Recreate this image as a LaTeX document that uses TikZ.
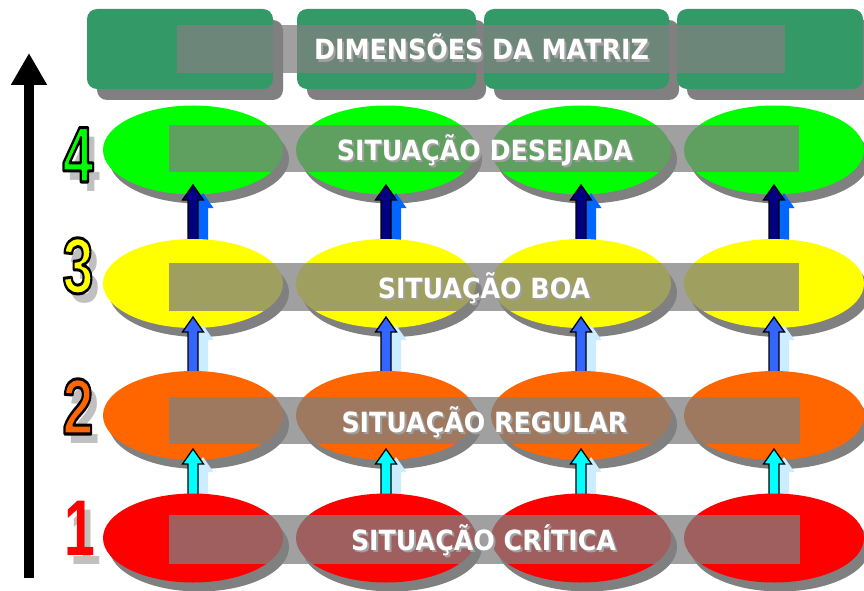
\documentclass[tikz,border=0pt]{standalone}
\usepackage{fontspec}
\usepackage{graphicx}
\usetikzlibrary{arrows.meta,shapes.geometric,shadows}
\newfontfamily\labfont{DejaVu Sans}
\newfontfamily\numfont{Liberation Sans}
\definecolor{boxgreen}{HTML}{339966}
\definecolor{shgray}{HTML}{808080}
\definecolor{txtshadow}{HTML}{A0A0A0}
\definecolor{numshadow}{HTML}{C0C0C0}
\definecolor{cgreen}{HTML}{00FF00}
\definecolor{cyellow}{HTML}{FFFF00}
\definecolor{corange}{HTML}{FF6600}
\definecolor{cred}{HTML}{FF0000}
\definecolor{arrnavy}{HTML}{000080}
\definecolor{arrblue}{HTML}{0066FF}
\definecolor{arrmid}{HTML}{3366FF}
\definecolor{arrcyan}{HTML}{00FFFF}
\definecolor{arrpale}{HTML}{CCECFF}
\newcommand\ofs[3]{\makebox[0pt][l]{\hspace*{#1}\raisebox{#2}{#3}}}
\newcommand\shtext[1]{\scalebox{1}[1.1]{\ofs{2pt}{-2pt}{\textcolor{txtshadow}{#1}}\textcolor{white}{#1}}}
\newcommand\olnum[2]{\ofs{10pt}{-9pt}{\textcolor{numshadow}{#2}}\textcolor{#1}{\special{pdf:literal direct 0 0 0 RG 3 w 1 j 2 Tr}#2\special{pdf:literal direct 0 Tr}}}
\newcommand\plnum[2]{\ofs{8pt}{-9pt}{\textcolor{numshadow}{#2}}\textcolor{#1}{#2}}
\begin{document}
\begin{tikzpicture}[x=1pt,y=-1pt,
  dimbox/.style={rectangle, rounded corners=10pt, fill=boxgreen, inner sep=0pt, minimum height=80pt,
     drop shadow={shadow xshift=10pt, shadow yshift=-11pt, fill=shgray, opacity=1}},
  oval/.style={ellipse, inner sep=0pt, minimum width=180pt, minimum height=89pt,
     drop shadow={shadow xshift=6pt, shadow yshift=-9pt, fill=shgray, opacity=1}},
  band/.style={fill=shgray, fill opacity=0.75},
  lbl/.style={anchor=base, inner sep=0pt, font=\labfont\bfseries\fontsize{25.3}{28}\selectfont},
  num/.style={anchor=base, inner sep=0pt, font=\numfont\bfseries\fontsize{79}{80}\selectfont},
  mainarr/.style={draw=black, line width=1.3pt, line join=miter, fill=#1},
  secarr/.style={fill=#1},
  uparr/.pic={\path[pic actions] (0,0) -- (10.5,15) -- (5,15) -- (5,62) -- (-5,62) -- (-5,15) -- (-10.5,15) -- cycle;}
]
\useasboundingbox (0,0) rectangle (864,591);

% vertical axis arrow
\coordinate (axb) at (29,578);
\coordinate (axt) at (29,53);
\draw[line width=10pt, -{Triangle[width=34pt,length=32pt]}] (axb) -- (axt);

% top boxes
\node[dimbox, minimum width=186pt] (d1) at (180,49) {};
\node[dimbox, minimum width=179pt] (d2) at (386.5,49) {};
\node[dimbox, minimum width=185pt] (d3) at (576.5,49) {};
\node[dimbox, minimum width=186pt] (d4) at (770,49) {};
\fill[band] (177,25) rectangle (785,73);
\node[lbl] (title) at (481.5,60) {\shtext{DIMENSÕES DA MATRIZ}};

% row 4
\foreach \x [count=\i] in {193,386,581,774} \node[oval, fill=cgreen] (e4\i) at (\x,150) {};
\fill[band] (169,125) rectangle (799,172);
\node[lbl] (t4) at (485,160) {\shtext{SITUAÇÃO DESEJADA}};
\node[num] (n4) at (78,182) {\scalebox{0.7}[1]{\olnum{cgreen}{4}}};

% arrows 4-3
\foreach \x in {193,386,581,774} {
  \pic[secarr=arrblue] at (\x+10,193) {uparr};
  \pic[mainarr=arrnavy] at (\x,185) {uparr};
}

% row 3
\foreach \x [count=\i] in {193,386,581,774} \node[oval, fill=cyellow] (e3\i) at (\x,283.5) {};
\fill[band] (169,263) rectangle (799,311);
\node[lbl] (t3) at (484,298) {\shtext{SITUAÇÃO BOA}};
\node[num] (n3) at (78,293) {\scalebox{0.7}[1]{\olnum{cyellow}{3}}};

% arrows 3-2
\foreach \x in {193,386,581,774} {
  \pic[secarr=arrpale] at (\x+10,325) {uparr};
  \pic[mainarr=arrmid] at (\x,317) {uparr};
}

% row 2
\foreach \x [count=\i] in {193,386,581,774} \node[oval, fill=corange] (e2\i) at (\x,415.5) {};
\fill[band] (169,397) rectangle (800,444);
\node[lbl] (t2) at (484.5,432) {\shtext{SITUAÇÃO REGULAR}};
\node[num] (n2) at (78,434) {\scalebox{0.7}[1]{\olnum{corange}{2}}};

% arrows 2-1
\foreach \x in {193,386,581,774} {
  \pic[secarr=arrpale] at (\x+10,457) {uparr};
  \pic[mainarr=arrcyan] at (\x,449) {uparr};
}

% row 1
\foreach \x [count=\i] in {193,386,581,774} \node[oval, fill=cred] (e1\i) at (\x,538) {};
\fill[band] (169,515) rectangle (800,564);
\node[lbl] (t1) at (483.5,550) {\shtext{SITUAÇÃO CRÍTICA}};
\node[num] (n1) at (80,555) {\scalebox{0.7}[1]{\plnum{cred}{1}}};
\end{tikzpicture}
\end{document}
